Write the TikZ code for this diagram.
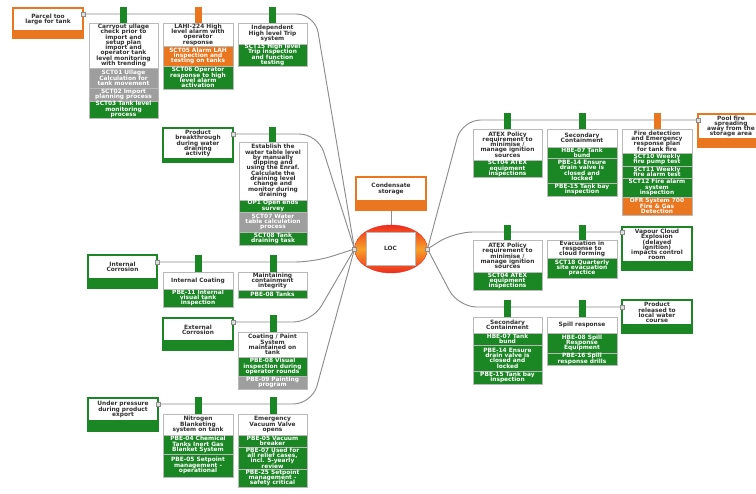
\documentclass[tikz,border=0pt]{standalone}
\usepackage{fontspec}
\newfontfamily\dvs{DejaVu Sans}
\usetikzlibrary{shapes.geometric}
\definecolor{cgreen}{RGB}{26,134,36}
\definecolor{corange}{RGB}{234,118,32}
\definecolor{cgrey}{RGB}{158,158,158}
\definecolor{cred}{RGB}{238,42,30}
\definecolor{cyell}{RGB}{246,160,40}
\definecolor{cline}{RGB}{140,140,140}
\definecolor{cbord}{RGB}{185,185,185}
\definecolor{ctext}{RGB}{50,50,50}
\pgfdeclarelayer{bg}
\pgfsetlayers{bg,main}
\begin{document}
\lineskiplimit=-4pt
\lineskip=0pt
\begin{tikzpicture}[x=0.75pt,y=-0.75pt,
  every node/.style={font=\dvs\bfseries\fontsize{4.4}{3.95}\selectfont,
                     inner sep=0pt, outer sep=0pt, align=center},
  sz/.style 2 args={anchor=north west, minimum width=#1*0.75pt, minimum height=#2*0.75pt},
  head/.style={draw=cbord, line width=0.4pt, fill=white, text=ctext},
  gcell/.style={draw=cbord, line width=0.4pt, fill=cgreen, text=white},
  ocell/.style={draw=cbord, line width=0.4pt, fill=corange, text=white},
  ycell/.style={draw=cbord, line width=0.4pt, fill=cgrey, text=white},
  evt/.style={draw=#1, line width=1.3pt, fill=white, text=ctext},
  strip/.style={draw=#1, line width=1.3pt, fill=#1},
  tab/.style={fill=#1, draw=none},
  port/.style={draw=cline, fill=white!88!black, line width=0.3pt, minimum size=3pt},
  ln/.style={draw=cline, line width=0.7pt, rounded corners=14pt}]
\useasboundingbox (0,0) rectangle (756,493);
\clip (0,0) rectangle (756,493);

% ---------- hazard and top event ----------
\node[evt=corange, sz={70}{24}] (haz) at (356,177) {Condensate\\storage};
\node[strip=corange, sz={70}{9}] (hazS) at (356,201) {};
\node[ellipse, minimum width=54.75pt, minimum height=36pt, draw=cred, line width=0.3pt,
      top color=cred, bottom color=cred, middle color=cyell] (locell) at (391,249) {};
\node[draw=cbord, line width=0.5pt, fill=white, text=ctext, sz={49}{33}] (loc) at (366,232) {LOC};
\node[port] (locW) at (locell.west) {};
\node[port] (locE) at (locell.east) {};

% ---------- threats ----------
\node[evt=corange, sz={70}{23}] (parcel) at (13,8) {Parcel too\\large for tank};
\node[strip=corange, sz={70}{7}] (parcelS) at (13,31) {};
\node[port] (parcelP) at (83,14) {};

\node[evt=cgreen, sz={70}{31}] (brk) at (163,128) {Product\\breakthrough\\during water\\draining\\activity};
\node[strip=cgreen, sz={70}{3}] (brkS) at (163,159) {};
\node[port] (brkP) at (233,134) {};

\node[evt=cgreen, sz={69}{24}] (icor) at (88,255) {Internal\\Corrosion};
\node[strip=cgreen, sz={69}{9}] (icorS) at (88,279) {};
\node[port] (icorP) at (157,262) {};

\node[evt=cgreen, sz={70}{23}] (ecor) at (163,318) {External\\Corrosion};
\node[strip=cgreen, sz={70}{9}] (ecorS) at (163,341) {};
\node[port] (ecorP) at (233,322) {};

\node[evt=cgreen, sz={70}{23}] (upr) at (88,398) {Under pressure\\during product\\export};
\node[strip=cgreen, sz={70}{10}] (uprS) at (88,421) {};
\node[port] (uprP) at (158,404) {};

% ---------- consequences ----------
\node[evt=corange, sz={66}{25}] (pool) at (698,114) {Pool fire\\spreading\\away from the\\storage area};
\node[strip=corange, sz={66}{8}] (poolS) at (698,139) {};
\node[port] (poolP) at (698,120) {};

\node[evt=cgreen, sz={70}{35}] (vce) at (622,227) {Vapour Cloud\\Explosion\\(delayed\\ignition)\\impacts control\\room};
\node[strip=cgreen, sz={70}{8}] (vceS) at (622,262) {};
\node[port] (vceP) at (622,232) {};

\node[evt=cgreen, sz={70}{25}] (rel) at (622,300) {Product\\released to\\local water\\course};
\node[strip=cgreen, sz={70}{8}] (relS) at (622,325) {};
\node[port] (relP) at (622,307) {};

% ---------- connectors ----------
\begin{pgfonlayer}{bg}
\draw[ln] (parcelP) -- (315,14) -- (locW);
\draw[ln] (brkP) -- (318,134) -- (locW);
\draw[ln] (icorP) -- (314,262) -- (locW);
\draw[ln] (ecorP) -- (312,322) -- (locW);
\draw[ln] (uprP) -- (312,404) -- (locW);
\draw[ln] (locE) -- (462,120) -- (poolP);
\draw[ln] (locE) -- (454,232) -- (vceP);
\draw[ln] (locE) -- (458,307) -- (relP);
\draw[draw=cline, line width=0.7pt] (hazS.south) -- (locell.north);
\end{pgfonlayer}

% ---------- barriers: parcel too large ----------
\node[tab=cgreen, sz={7}{16}] (ta1) at (120,7) {};
\node[head, sz={69}{45}] (ba1) at (89,23) {Carryout ullage\\check prior to\\import and\\setup plan\\import and\\operator tank\\level monitoring\\with trending};
\node[ycell, sz={69}{20}] (ba1a) at (89,68) {SCT01 Ullage\\Calculation for\\tank movement};
\node[ycell, sz={69}{13}] (ba1b) at (89,88) {SCT02 Import\\planning process};
\node[gcell, sz={69}{17}] (ba1c) at (89,101) {SCT03 Tank level\\monitoring\\process};

\node[tab=corange, sz={7}{16}] (ta2) at (195,7) {};
\node[head, sz={70}{23}] (ba2) at (163,23) {LAHI-224 High\\level alarm with\\operator\\response};
\node[ocell, sz={70}{20}] (ba2a) at (163,46) {SCT05 Alarm LAH\\inspection and\\testing on tanks};
\node[gcell, sz={70}{23}] (ba2b) at (163,66) {SCT06 Operator\\response to high\\level alarm\\activation};

\node[tab=cgreen, sz={7}{16}] (ta3) at (269,7) {};
\node[head, sz={69}{21}] (ba3) at (238,23) {Independent\\High level Trip\\system};
\node[gcell, sz={69}{22}] (ba3a) at (238,44) {SCT15 High level\\Trip inspection\\and function\\testing};

% ---------- barriers: product breakthrough ----------
\node[tab=cgreen, sz={7}{15}] (tb1) at (269,127) {};
\node[head, sz={68}{58}] (bb1) at (239,142) {Establish the\\water table level\\by manually\\dipping and\\using the Enraf.\\Calculate the\\draining level\\change and\\monitor during\\draining};
\node[gcell, sz={68}{12}] (bb1a) at (239,200) {OP1 Open ends\\survey};
\node[ycell, sz={68}{20}] (bb1b) at (239,212) {SCT07 Water\\table calculation\\process};
\node[gcell, sz={68}{13}] (bb1c) at (239,232) {SCT08 Tank\\draining task};

% ---------- barriers: internal corrosion ----------
\node[tab=cgreen, sz={7}{17}] (tc1) at (195,255) {};
\node[head, sz={70}{17}] (bc1) at (163,272) {Internal Coating};
\node[gcell, sz={70}{18}] (bc1a) at (163,289) {PBE-11 Internal\\visual tank\\inspection};

\node[tab=cgreen, sz={7}{17}] (tc2) at (270,255) {};
\node[head, sz={69}{18}] (bc2) at (238,272) {Maintaining\\containment\\integrity};
\node[gcell, sz={69}{8}] (bc2a) at (238,290) {PBE-08 Tanks};

% ---------- barriers: external corrosion ----------
\node[tab=cgreen, sz={7}{17}] (td1) at (270,315) {};
\node[head, sz={69}{25}] (bd1) at (238,332) {Coating / Paint\\System\\maintained on\\tank};
\node[gcell, sz={69}{19}] (bd1a) at (238,357) {PBE-08 Visual\\inspection during\\operator rounds};
\node[ycell, sz={69}{13}] (bd1b) at (238,376) {PBE-09 Painting\\program};

% ---------- barriers: under pressure ----------
\node[tab=cgreen, sz={7}{17}] (te1) at (195,397) {};
\node[head, sz={70}{21}] (be1) at (163,414) {Nitrogen\\Blanketing\\system on tank};
\node[gcell, sz={70}{19}] (be1a) at (163,435) {PBE-04 Chemical\\Tanks Inert Gas\\Blanket System};
\node[gcell, sz={70}{23}] (be1b) at (163,454) {PBE-05 Setpoint\\management -\\operational};

\node[tab=cgreen, sz={7}{17}] (te2) at (270,397) {};
\node[head, sz={69}{21}] (be2) at (238,414) {Emergency\\Vacuum Valve\\opens};
\node[gcell, sz={69}{12}] (be2a) at (238,435) {PBE-05 Vacuum\\breaker};
\node[gcell, sz={69}{22}] (be2b) at (238,447) {PBE-07 Used for\\all relief cases,\\incl. 5-yearly\\review};
\node[gcell, sz={69}{18}] (be2c) at (238,469) {PBE-25 Setpoint\\management -\\safety critical};

% ---------- barriers: pool fire ----------
\node[tab=cgreen, sz={7}{16}] (tf1) at (504,113) {};
\node[head, sz={69}{31}] (bf1) at (473,129) {ATEX Policy\\requirement to\\minimise /\\manage ignition\\sources};
\node[gcell, sz={69}{17}] (bf1a) at (473,160) {SCT04 ATEX\\equipment\\inspections};

\node[tab=cgreen, sz={7}{16}] (tf2) at (579,113) {};
\node[head, sz={70}{18}] (bf2) at (547,129) {Secondary\\Containment};
\node[gcell, sz={70}{11}] (bf2a) at (547,147) {HBE-07 Tank\\bund};
\node[gcell, sz={70}{25}] (bf2b) at (547,158) {PBE-14 Ensure\\drain valve is\\closed and\\locked};
\node[gcell, sz={70}{13}] (bf2c) at (547,183) {PBE-15 Tank bay\\inspection};

\node[tab=corange, sz={7}{16}] (tf3) at (654,113) {};
\node[head, sz={70}{24}] (bf3) at (622,129) {Fire detection\\and Emergency\\response plan\\for tank fire};
\node[gcell, sz={70}{13}] (bf3a) at (622,153) {SCT10 Weekly\\fire pump test};
\node[gcell, sz={70}{12}] (bf3b) at (622,166) {SCT11 Weekly\\fire alarm test};
\node[gcell, sz={70}{19}] (bf3c) at (622,178) {SCT12 Fire alarm\\system\\inspection};
\node[ocell, sz={70}{18}] (bf3d) at (622,197) {OFR System 700\\Fire \& Gas\\Detection};

% ---------- barriers: vapour cloud ----------
\node[tab=cgreen, sz={7}{15}] (tg1) at (504,225) {};
\node[head, sz={69}{32}] (bg1) at (473,240) {ATEX Policy\\requirement to\\minimise /\\manage ignition\\sources};
\node[gcell, sz={69}{18}] (bg1a) at (473,272) {SCT04 ATEX\\equipment\\inspections};

\node[tab=cgreen, sz={7}{15}] (tg2) at (579,225) {};
\node[head, sz={70}{18}] (bg2) at (547,240) {Evacuation in\\response to\\cloud forming};
\node[gcell, sz={70}{20}] (bg2a) at (547,258) {SCT18 Quarterly\\site evacuation\\practice};

% ---------- barriers: product release ----------
\node[tab=cgreen, sz={7}{17}] (th1) at (504,300) {};
\node[head, sz={69}{16}] (bh1) at (473,317) {Secondary\\Containment};
\node[gcell, sz={69}{12}] (bh1a) at (473,333) {HBE-07 Tank\\bund};
\node[gcell, sz={69}{26}] (bh1b) at (473,345) {PBE-14 Ensure\\drain valve is\\closed and\\locked};
\node[gcell, sz={69}{13}] (bh1c) at (473,371) {PBE-15 Tank bay\\inspection};

\node[tab=cgreen, sz={7}{17}] (th2) at (579,300) {};
\node[head, sz={70}{16}] (bh2) at (547,317) {Spill response};
\node[gcell, sz={70}{20}] (bh2a) at (547,333) {HBE-08 Spill\\Response\\Equipment};
\node[gcell, sz={70}{12}] (bh2b) at (547,353) {PBE-16 Spill\\response drills};
\end{tikzpicture}
\end{document}
